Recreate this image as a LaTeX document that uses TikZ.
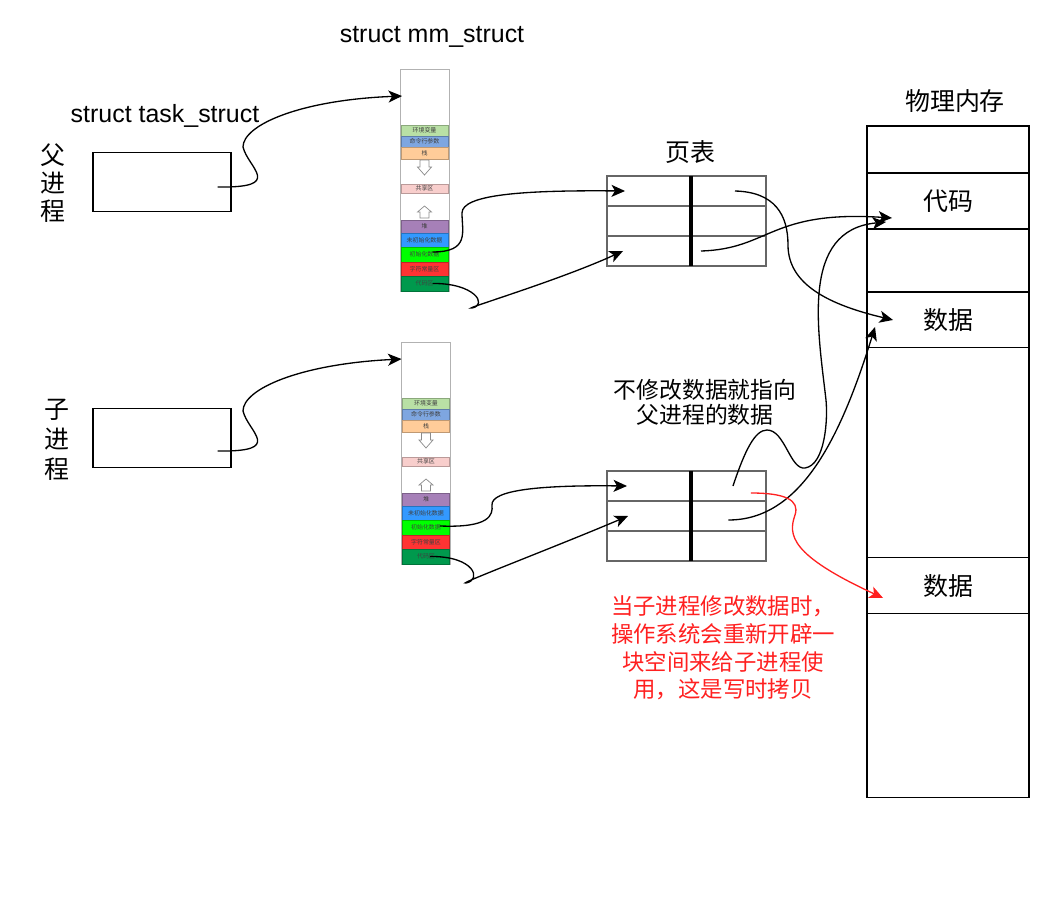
\documentclass[tikz,border=0pt]{standalone}
\usepackage{fontspec}
\setmainfont{Liberation Sans}
\newfontfamily\cjk{Noto Sans CJK SC}
\usepackage{xcolor}
\usetikzlibrary{arrows.meta, positioning, calc}

\definecolor{envgreen}{HTML}{B9E0A5}
\definecolor{cmdblue}{HTML}{7EA6E0}
\definecolor{stackorange}{HTML}{FFCC99}
\definecolor{sharepink}{HTML}{F8CECC}
\definecolor{heappurple}{HTML}{A680B8}
\definecolor{uninitblue}{HTML}{3399FF}
\definecolor{initgreen}{HTML}{00FF00}
\definecolor{constred}{HTML}{FF3333}
\definecolor{codegreen}{HTML}{00994D}
\definecolor{cowred}{HTML}{FF2020}

\begin{document}
\begin{tikzpicture}[
    x=0.02cm, y=-0.02cm,
    >=Stealth,
    procbox/.style={draw, line width=0.75pt, minimum width=2.76cm, minimum height=1.18cm},
    lbl/.style={inner sep=0pt, font=\fontsize{14.2}{16}\selectfont},
    cntext/.style={inner sep=0pt, align=center, font=\cjk\fontsize{14.2}{15.9}\selectfont},
    mmcol/.style={draw=black!30, line width=0.5pt, minimum width=0.98cm, inner sep=0pt, outer sep=0pt},
    seg/.style={draw=#1!75!black, line width=0.3pt, fill=#1, minimum width=0.94cm, inner sep=0pt, outer sep=0pt, text=black!75, font=\cjk\fontsize{3.4}{4}\selectfont},
    hollow/.style={draw=black!45, fill=white, line width=0.4pt},
    ptcell/.style={draw=black!60, line width=0.8pt, minimum height=0.6cm, inner sep=0pt, outer sep=0pt},
    divider/.style={line width=2.3pt},
    memcell/.style={draw, line width=0.6pt, minimum width=3.24cm, inner sep=0pt, outer sep=0pt, font=\cjk\fontsize{14.2}{16}\selectfont},
    arrow/.style={-{Stealth[length=0.27cm, width=0.24cm, inset=0.07cm]}, line width=0.75pt},
  ]
  \useasboundingbox (0,0) rectangle (1042,900);
  % Labels
  \node[lbl] (mmlbl) at (432,37) {struct mm\_struct};
  \node[lbl] (tasklbl) at (165,116) {struct task\_struct};
  \node[cntext, font=\cjk\fontsize{14.2}{15.9}\selectfont] (plbl) at (53,183) {父\\进\\程};
  \node[cntext, font=\cjk\fontsize{14.2}{17}\selectfont] (clbl) at (57,440) {子\\进\\程};
  \node[cntext] (ptlbl) at (690,152) {页表};
  \node[cntext] (memlbl) at (955,101) {物理内存};
  \node[cntext, font=\cjk\fontsize{13}{14.2}\selectfont] (note) at (705,402) {不修改数据就指向\\父进程的数据};
  \node[cntext, text=cowred, font=\cjk\fontsize{12.75}{15.7}\selectfont] (cow) at (723,648) {当子进程修改数据时，\\操作系统会重新开辟一\\块空间来给子进程使\\用，这是写时拷贝};
  % task_struct boxes
  \node[procbox] (ptask) at (162,182) {};
  \node[procbox] (ctask) at (162,438) {};
  % Parent mm_struct
  \node[mmcol, minimum height=4.44cm] (pmm) at (424.5,180) {};
  \node[seg=envgreen, minimum height=0.22cm, below=1.12cm of pmm.north] (penv) {环境变量};
  \node[seg=cmdblue, minimum height=0.22cm, below=0pt of penv] (pcmd) {命令行参数};
  \node[seg=stackorange, minimum height=0.24cm, below=0pt of pcmd] (pstack) {栈};
  \node[seg=sharepink, minimum height=0.18cm, below=0.5cm of pstack] (pshare) {共享区};
  \node[seg=heappurple, minimum height=0.26cm, below=0.54cm of pshare] (pheap) {堆};
  \node[seg=uninitblue, minimum height=0.28cm, below=0pt of pheap] (puninit) {未初始化数据};
  \node[seg=initgreen, minimum height=0.3cm, below=0pt of puninit] (pinit) {初始化数据};
  \node[seg=constred, minimum height=0.28cm, below=0pt of pinit] (pconst) {字符常量区};
  \node[seg=codegreen, minimum height=0.3cm, below=0pt of pconst] (pcode) {代码区};
  \draw[hollow, shift={(pstack.south)}] (-4.5,1) -- (4.5,1) -- (4.5,8) -- (7,8) -- (0,16) -- (-7,8) -- (-4.5,8) -- cycle;
  \draw[hollow, shift={(pheap.north)}] (0,-14) -- (7,-8) -- (4.5,-8) -- (4.5,-2) -- (-4.5,-2) -- (-4.5,-8) -- (-7,-8) -- cycle;
  % Child mm_struct
  \node[mmcol, minimum height=4.44cm] (cmm) at (426,453) {};
  \node[seg=envgreen, minimum height=0.22cm, below=1.12cm of cmm.north] (cenv) {环境变量};
  \node[seg=cmdblue, minimum height=0.22cm, below=0pt of cenv] (ccmd) {命令行参数};
  \node[seg=stackorange, minimum height=0.24cm, below=0pt of ccmd] (cstack) {栈};
  \node[seg=sharepink, minimum height=0.18cm, below=0.5cm of cstack] (cshare) {共享区};
  \node[seg=heappurple, minimum height=0.26cm, below=0.54cm of cshare] (cheap) {堆};
  \node[seg=uninitblue, minimum height=0.28cm, below=0pt of cheap] (cuninit) {未初始化数据};
  \node[seg=initgreen, minimum height=0.3cm, below=0pt of cuninit] (cinit) {初始化数据};
  \node[seg=constred, minimum height=0.28cm, below=0pt of cinit] (cconst) {字符常量区};
  \node[seg=codegreen, minimum height=0.3cm, below=0pt of cconst] (ccode) {代码区};
  \draw[hollow, shift={(cstack.south)}] (-4.5,1) -- (4.5,1) -- (4.5,8) -- (7,8) -- (0,16) -- (-7,8) -- (-4.5,8) -- cycle;
  \draw[hollow, shift={(cheap.north)}] (0,-14) -- (7,-8) -- (4.5,-8) -- (4.5,-2) -- (-4.5,-2) -- (-4.5,-8) -- (-7,-8) -- cycle;
  % Parent page table
  \node[ptcell, minimum width=1.68cm] (pt11) at (649,191) {};
  \node[ptcell, minimum width=1.5cm, right=0pt of pt11] (pt12) {};
  \node[ptcell, minimum width=1.68cm, below=0pt of pt11] (pt21) {};
  \node[ptcell, minimum width=1.5cm, right=0pt of pt21] (pt22) {};
  \node[ptcell, minimum width=1.68cm, below=0pt of pt21] (pt31) {};
  \node[ptcell, minimum width=1.5cm, right=0pt of pt31] (pt32) {};
  \draw[divider] (pt11.north east) -- (pt31.south east);
  % Child page table
  \node[ptcell, minimum width=1.68cm] (ct11) at (649,486) {};
  \node[ptcell, minimum width=1.5cm, right=0pt of ct11] (ct12) {};
  \node[ptcell, minimum width=1.68cm, below=0pt of ct11] (ct21) {};
  \node[ptcell, minimum width=1.5cm, right=0pt of ct21] (ct22) {};
  \node[ptcell, minimum width=1.68cm, below=0pt of ct21] (ct31) {};
  \node[ptcell, minimum width=1.5cm, right=0pt of ct31] (ct32) {};
  \draw[divider] (ct11.north east) -- (ct31.south east);
  % Physical memory
  \node[memcell, minimum height=0.94cm] (mtop) at (948,149.5) {};
  \node[memcell, minimum height=1.12cm, below=0pt of mtop] (mcode) {代码};
  \node[memcell, minimum height=1.26cm, below=0pt of mcode] (mgap) {};
  \node[memcell, minimum height=1.12cm, below=0pt of mgap] (mdata) {数据};
  \node[memcell, minimum height=4.2cm, below=0pt of mdata] (mfree) {};
  \node[memcell, minimum height=1.12cm, below=0pt of mfree] (mnew) {数据};
  \node[memcell, minimum height=3.68cm, below=0pt of mnew] (mbot) {};
  % task_struct -> mm_struct
  \draw[arrow] ([xshift=-0.28cm, yshift=-0.1cm]ptask.east) .. controls (285,188) and (248,168) .. (243,147) .. controls (243,125) and (300,100) .. ([xshift=0.04cm, yshift=-0.54cm]pmm.north west);
  \draw[arrow] ([xshift=-0.28cm, yshift=-0.26cm]ctask.east) .. controls (285,452) and (248,432) .. (243,411) .. controls (243,389) and (300,364) .. ([yshift=-0.34cm]cmm.north west);
  % mm_struct -> page table
  \draw[arrow] ([xshift=0.16cm, yshift=0.05cm]pinit.center) .. controls (470,252) and (462,232) .. (462,213) .. controls (462,195) and (520,190) .. ([xshift=0.36cm]pt11.west);
  \draw[arrow] ([xshift=0.16cm]pcode.center) .. controls (475,283) and (488,305) .. (472,308) .. controls (460,310) and (560,280) .. ([xshift=0.32cm]pt31.west);
  \draw[arrow] ([xshift=0.28cm, yshift=0.03cm]cinit.center) .. controls (490,528) and (493,515) .. (492,505) .. controls (491,490) and (540,485) .. ([xshift=0.4cm]ct11.west);
  \draw[arrow] ([xshift=0.08cm]ccode.center) .. controls (475,556) and (482,580) .. (466,583) .. controls (455,585) and (560,545) .. ([xshift=0.42cm]ct21.west);
  % page table -> physical memory
  \draw[arrow] ([xshift=0.13cm]pt12.center) .. controls (775,192) and (788,215) .. (788,245) .. controls (788,285) and (830,305) .. ([xshift=0.52cm]mdata.west);
  \draw[arrow] ([xshift=0.2cm]pt32.west) .. controls (770,249) and (770,210) .. ([xshift=0.5cm, yshift=-0.34cm]mcode.west);
  \draw[arrow] ([xshift=0.09cm]ct12.center) .. controls (745,450) and (755,430) .. (767,430) .. controls (785,430) and (790,470) .. (805,468) .. controls (825,465) and (828,420) .. (826,400) .. controls (818,330) and (800,230) .. ([xshift=0.38cm, yshift=-0.42cm]mcode.west);
  \draw[arrow] ([yshift=-0.08cm]ct22.center) .. controls (800,520) and (840,440) .. ([xshift=0.16cm, yshift=-0.14cm]mdata.west);
  % copy on write
  \draw[arrow, cowred] ([xshift=0.45cm, yshift=-0.14cm]ct12.center) .. controls (785,493) and (800,500) .. (795,515) .. controls (788,535) and (790,555) .. ([xshift=0.32cm, yshift=-0.24cm]mnew.west);
\end{tikzpicture}
\end{document}
